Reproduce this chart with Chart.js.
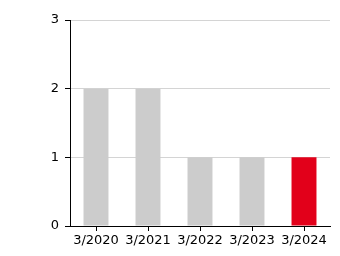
<!DOCTYPE html>
<html><head><meta charset="utf-8">
<script src="https://cdn.jsdelivr.net/npm/chart.js@4"></script>
<style>html,body{margin:0;padding:0;background:#fff}#w{width:340px;height:256px}</style>
</head><body><div id="w"><canvas id="c"></canvas></div>
<script>
const categories = ["3/2020","3/2021","3/2022","3/2023","3/2024"];
const values = [2,2,1,1,1];
const barColors = ["#cccccc","#cccccc","#cccccc","#cccccc","#e2001a"];
const yTicks = [0,1,2,3];
Chart.defaults.font.family = "DejaVu Sans";
new Chart(document.getElementById('c'), {
  type: 'bar',
  data: { labels: categories, datasets: [{ data: values, backgroundColor: barColors, barPercentage: 0.5, categoryPercentage: 0.96 }] },
  options: {
    responsive: true, maintainAspectRatio: false, animation: false,
    layout: { padding: { top: 20, right: 10, left: 0, bottom: 0 } },
    plugins: { legend: { display: false }, tooltip: { enabled: false } },
    scales: {
      x: {
        grid: { drawOnChartArea: false, offset: false, tickColor: '#000', tickLength: 5 },
        border: { color: '#000', width: 1 },
        ticks: { color: '#000', font: { size: 13 }, maxRotation: 0, padding: 2 },
        afterFit: s => { s.height = 30; }
      },
      y: {
        min: 0, max: 3,
        afterBuildTicks: s => { s.ticks = yTicks.map(v => ({ value: v })); },
        grid: { color: '#d4d4d4', tickColor: '#000', tickLength: 5 },
        border: { color: '#000', width: 1 },
        ticks: { color: '#000', font: { size: 13 }, padding: 6 },
        afterFit: s => { s.width = 70; }
      }
    }
  }
});
</script></body></html>
